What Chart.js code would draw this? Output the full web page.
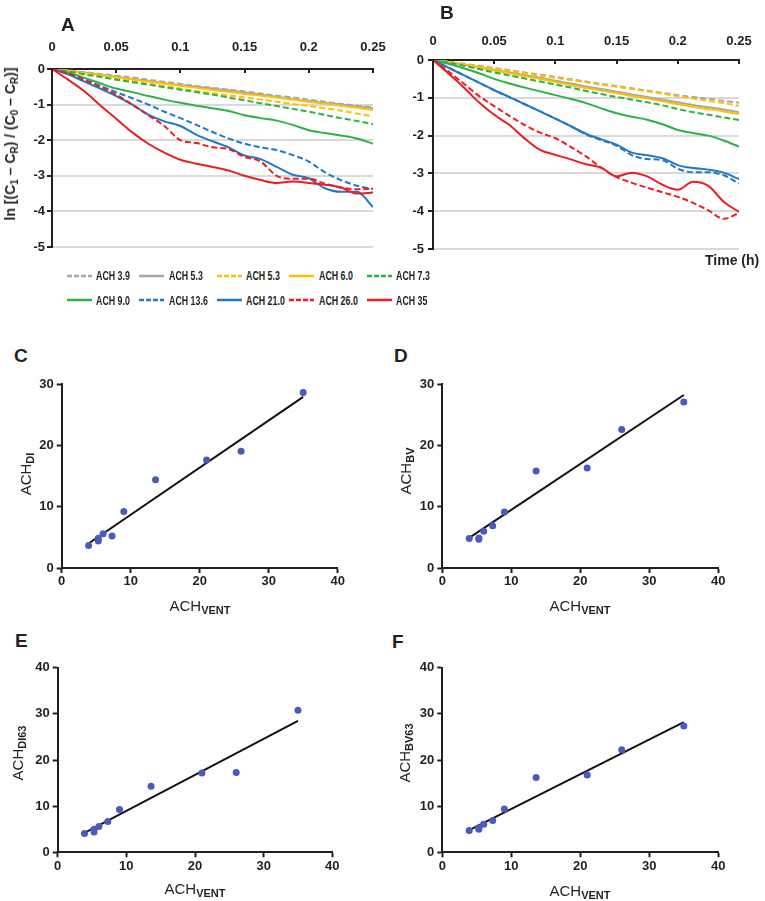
<!DOCTYPE html>
<html>
<head>
<meta charset="utf-8">
<script src="https://cdn.jsdelivr.net/npm/chart.js@4.4.0/dist/chart.umd.min.js"></script>
<style>
html,body{margin:0;padding:0;background:#fff;}
body{width:765px;height:901px;position:relative;overflow:hidden;font-family:"Liberation Sans",Arial,sans-serif;color:#231f20;}
canvas{position:absolute;}
.letter{position:absolute;font-weight:bold;font-size:19px;line-height:19px;}
.ytitle{position:absolute;white-space:nowrap;transform:translate(-50%,-50%) rotate(-90deg);line-height:16px;}
.xtitle{position:absolute;white-space:nowrap;transform:translateX(-50%);line-height:15px;}
.ach{font-size:15px;}
.sub{font-size:11px;font-weight:bold;position:relative;top:3px;}
.atitle{font-weight:bold;font-size:14px;}
.atitle .s{font-size:10px;position:relative;top:3px;}
.leg{position:absolute;font-weight:bold;font-size:13px;line-height:13px;white-space:nowrap;transform:scaleX(0.68);transform-origin:left center;}
svg.sw{position:absolute;overflow:visible;}
</style>
</head>
<body>
<canvas id="cA" width="392" height="230" style="left:0px;top:28px;"></canvas>
<canvas id="cB" width="380" height="237" style="left:385px;top:20px;"></canvas>
<canvas id="cC" width="355" height="228" style="left:0px;top:372px;"></canvas>
<canvas id="cD" width="360" height="228" style="left:380px;top:372px;"></canvas>
<canvas id="cE" width="355" height="226" style="left:0px;top:656px;"></canvas>
<canvas id="cF" width="360" height="226" style="left:380px;top:656px;"></canvas>

<div class="letter" style="left:61px;top:15px;">A</div>
<div class="letter" style="left:440px;top:3px;">B</div>
<div class="letter" style="left:14px;top:345.5px;">C</div>
<div class="letter" style="left:394px;top:345.5px;">D</div>
<div class="letter" style="left:15px;top:631px;">E</div>
<div class="letter" style="left:392px;top:632px;">F</div>

<div class="ytitle atitle" style="left:11px;top:144px;">ln [(C<span class="s">1</span> – C<span class="s">R</span>) / (C<span class="s">0</span> – C<span class="s">R</span>)]</div>
<div style="position:absolute;left:705px;top:253px;font-weight:bold;font-size:14px;line-height:14px;white-space:nowrap;">Time (h)</div>

<div class="ytitle" style="left:26px;top:474px;"><span class="ach">ACH</span><span class="sub">DI</span></div>
<div class="ytitle" style="left:406px;top:471px;"><span class="ach">ACH</span><span class="sub">BV</span></div>
<div class="ytitle" style="left:18px;top:753px;"><span class="ach">ACH</span><span class="sub">DI63</span></div>
<div class="ytitle" style="left:405px;top:753px;"><span class="ach">ACH</span><span class="sub">BV63</span></div>

<div class="xtitle" style="left:200px;top:598px;"><span class="ach">ACH</span><span class="sub">VENT</span></div>
<div class="xtitle" style="left:580px;top:598px;"><span class="ach">ACH</span><span class="sub">VENT</span></div>
<div class="xtitle" style="left:195px;top:881px;"><span class="ach">ACH</span><span class="sub">VENT</span></div>
<div class="xtitle" style="left:580px;top:883px;"><span class="ach">ACH</span><span class="sub">VENT</span></div>

<div id="legend"></div>

<script>
// ---------- DATA ----------
const timeH = [0,0.0125,0.025,0.0375,0.05,0.0625,0.075,0.0875,0.1,0.1125,0.125,0.1375,0.15,0.1625,0.175,0.1875,0.2,0.2125,0.225,0.2375,0.25];
const timeTicks = [0,0.05,0.1,0.15,0.2,0.25];
const timeTickLabels = ['0','0.05','0.1','0.15','0.2','0.25'];
const decayYLabels = ['-5','-4','-3','-2','-1','0'];
const seriesNames = ['ACH 3.9','ACH 5.3','ACH 5.3','ACH 6.0','ACH 7.3','ACH 9.0','ACH 13.6','ACH 21.0','ACH 26.0','ACH 35'];

// Panel A
const a_ach39  = [0,-0.04,-0.09,-0.14,-0.19,-0.24,-0.3,-0.36,-0.42,-0.48,-0.53,-0.58,-0.63,-0.69,-0.75,-0.8,-0.86,-0.92,-0.98,-1.03,-1.08];
const a_ach53g = [0,-0.05,-0.1,-0.16,-0.22,-0.28,-0.34,-0.4,-0.45,-0.5,-0.55,-0.6,-0.66,-0.72,-0.78,-0.84,-0.9,-0.95,-1.0,-1.05,-1.1];
const a_ach53y = [0,-0.06,-0.13,-0.2,-0.27,-0.34,-0.41,-0.48,-0.55,-0.62,-0.68,-0.74,-0.8,-0.86,-0.92,-0.98,-1.04,-1.1,-1.17,-1.25,-1.33];
const a_ach60  = [0,-0.05,-0.11,-0.17,-0.23,-0.29,-0.35,-0.41,-0.47,-0.53,-0.59,-0.64,-0.7,-0.75,-0.8,-0.86,-0.92,-0.97,-1.03,-1.09,-1.15];
const a_ach73  = [0,-0.07,-0.15,-0.22,-0.3,-0.37,-0.44,-0.51,-0.58,-0.65,-0.72,-0.8,-0.88,-0.96,-1.04,-1.12,-1.2,-1.29,-1.38,-1.46,-1.55];
const a_ach90  = [0,-0.1,-0.25,-0.4,-0.55,-0.65,-0.76,-0.86,-0.95,-1.03,-1.1,-1.18,-1.3,-1.38,-1.45,-1.57,-1.72,-1.8,-1.87,-1.95,-2.1];
const a_ach136 = [0,-0.14,-0.3,-0.47,-0.65,-0.82,-1.0,-1.2,-1.38,-1.57,-1.77,-1.95,-2.1,-2.2,-2.28,-2.42,-2.6,-2.9,-3.12,-3.28,-3.37];
const a_ach210 = [0,-0.15,-0.35,-0.55,-0.76,-1.0,-1.28,-1.47,-1.6,-1.85,-2.03,-2.2,-2.43,-2.53,-2.75,-2.97,-3.07,-3.35,-3.45,-3.45,-3.88];
const a_ach260 = [0,-0.13,-0.3,-0.5,-0.72,-1.0,-1.3,-1.6,-2.0,-2.08,-2.2,-2.25,-2.47,-2.6,-3.0,-3.08,-3.08,-3.22,-3.33,-3.38,-3.36];
const a_ach350 = [0,-0.3,-0.62,-1.02,-1.4,-1.78,-2.1,-2.35,-2.55,-2.66,-2.75,-2.85,-3.0,-3.12,-3.2,-3.16,-3.2,-3.25,-3.33,-3.5,-3.47];

// Panel B
const b_ach39  = [0,-0.05,-0.1,-0.15,-0.21,-0.27,-0.33,-0.39,-0.45,-0.51,-0.57,-0.63,-0.69,-0.75,-0.81,-0.87,-0.93,-0.98,-1.03,-1.08,-1.13];
const b_ach53g = [0,-0.06,-0.12,-0.19,-0.26,-0.33,-0.4,-0.47,-0.55,-0.62,-0.7,-0.77,-0.84,-0.91,-0.98,-1.05,-1.12,-1.19,-1.25,-1.31,-1.38];
const b_ach53y = [0,-0.05,-0.11,-0.17,-0.23,-0.29,-0.35,-0.41,-0.47,-0.53,-0.59,-0.65,-0.71,-0.77,-0.83,-0.89,-0.96,-1.02,-1.08,-1.14,-1.21];
const b_ach60  = [0,-0.06,-0.13,-0.2,-0.28,-0.35,-0.43,-0.5,-0.58,-0.66,-0.74,-0.81,-0.88,-0.95,-1.02,-1.09,-1.17,-1.24,-1.3,-1.36,-1.43];
const b_ach73  = [0,-0.07,-0.15,-0.24,-0.33,-0.41,-0.49,-0.57,-0.65,-0.73,-0.82,-0.9,-0.98,-1.05,-1.12,-1.2,-1.3,-1.38,-1.45,-1.52,-1.59];
const b_ach90  = [0,-0.1,-0.22,-0.35,-0.5,-0.62,-0.73,-0.83,-0.93,-1.03,-1.14,-1.28,-1.41,-1.5,-1.58,-1.7,-1.85,-1.93,-2.0,-2.13,-2.29];
const b_ach136 = [0,-0.2,-0.4,-0.6,-0.8,-0.98,-1.17,-1.36,-1.55,-1.75,-1.97,-2.12,-2.27,-2.52,-2.62,-2.65,-2.88,-2.97,-2.97,-3.05,-3.27];
const b_ach210 = [0,-0.2,-0.4,-0.6,-0.8,-0.98,-1.17,-1.36,-1.55,-1.75,-1.95,-2.1,-2.24,-2.45,-2.52,-2.6,-2.78,-2.86,-2.9,-2.98,-3.15];
const b_ach260 = [0,-0.3,-0.62,-0.95,-1.22,-1.48,-1.72,-1.92,-2.07,-2.3,-2.55,-2.85,-3.1,-3.25,-3.38,-3.5,-3.62,-3.78,-3.98,-4.2,-4.05];
const b_ach350 = [0,-0.35,-0.72,-1.12,-1.45,-1.72,-2.08,-2.38,-2.51,-2.63,-2.76,-2.85,-3.08,-2.98,-3.08,-3.3,-3.43,-3.22,-3.33,-3.75,-4.02];

// Scatter panels C–F
const ventACH   = [3.9,5.3,5.3,6.0,7.3,9.0,13.6,21.0,26.0,35];
const achDI     = [3.65,4.4,4.85,5.6,5.2,9.2,14.4,17.6,19.05,28.6];
const achBV     = [4.8,4.7,4.9,6.0,6.9,9.15,15.8,16.3,22.6,27.05];
const achDI63   = [4.1,4.4,5.0,5.6,6.7,9.25,14.3,17.2,17.3,30.8];
const achBV63   = [4.7,5.0,5.3,6.1,6.9,9.4,16.2,16.75,22.2,27.35];
const fitX      = [3.9,35];
const fitDI     = [4.0,27.9];
const fitBV     = [4.9,28.2];
const fitDI63   = [4.2,28.5];
const fitBV63   = [4.8,28.2];
const scatterXTicks = [0,10,20,30,40];

// ---------- STYLE ----------
const INK = '#231f20';
const GRID = '#d9d9d9';
const FONT = '"Liberation Sans", Arial, sans-serif';
const DOT = '#4a5bbd';
const seriesColors = ['#a6a6a6','#a6a6a6','#ffc000','#ffc000','#2db14b','#2db14b','#2278c3','#2278c3','#ed1c24','#ed1c24'];
const seriesDashed = [true,false,true,false,true,false,true,false,true,false];

const innerTicks = {
  id:'innerTicks',
  afterDatasetsDraw(chart, args, opts){
    const s = chart.scales.x, ctx = chart.ctx, top = chart.chartArea.top;
    ctx.save();
    ctx.strokeStyle = INK; ctx.lineWidth = 2;
    s.ticks.forEach(t => {
      const x = Math.round(s.getPixelForValue(t.value));
      ctx.beginPath(); ctx.moveTo(x, top); ctx.lineTo(x, top + (opts.len || 4)); ctx.stroke();
    });
    ctx.restore();
  }
};

function makeDecay(id, series, lay){
  new Chart(document.getElementById(id), {
    type:'line',
    data:{datasets: series.map((arr,i)=>({
      label: seriesNames[i],
      data: timeH.map((t,k)=>({x:t, y:arr[k]})),
      borderColor: seriesColors[i], backgroundColor: seriesColors[i],
      borderWidth: 2, borderDash: seriesDashed[i] ? [6,3] : [],
      pointRadius: 0, fill:false, cubicInterpolationMode:'monotone', order: 9 - i
    }))},
    options:{
      responsive:false, animation:false, events:[],
      layout:{padding:{left:0, top:0, right:lay.padR, bottom:lay.padB}},
      plugins:{legend:{display:false}, tooltip:{enabled:false}, innerTicks:{len:4}},
      scales:{
        x:{type:'linear', position:'top', min:0, max:0.25,
          afterBuildTicks: s => { s.ticks = timeTicks.map(v => ({value:v})); },
          ticks:{callback:(v,i)=>timeTickLabels[i], padding:lay.xPad, color:INK, maxRotation:0, autoSkip:false,
                 font:{family:FONT, size:13, weight:'bold'}},
          grid:{drawOnChartArea:false, drawTicks:false},
          border:{color:INK, width:2},
          afterFit: s => { s.height = lay.xH; s.paddingLeft = 0; s.paddingRight = 0; }
        },
        y:{type:'linear', min:-5, max:0,
          ticks:{stepSize:1, callback:(v,i)=>decayYLabels[i], padding:lay.yPad, color:INK,
                 font:{family:FONT, size:13, weight:'bold'}},
          grid:{color: c => (c.tick && c.tick.value === 0) ? 'rgba(0,0,0,0)' : GRID, lineWidth:2,
                tickColor: INK, tickLength:5, tickWidth:2},
          border:{color:INK, width:2},
          afterFit: s => { s.width = lay.yW; s.paddingTop = 0; s.paddingBottom = 0; }
        }
      }
    },
    plugins:[innerTicks]
  });
}

function makeScatter(id, yVals, fitY, yMax, lay){
  const yTicks = [];
  for (let v = 0; v <= yMax; v += 10) yTicks.push(v);
  new Chart(document.getElementById(id), {
    type:'scatter',
    data:{datasets:[
      {data: ventACH.map((x,i)=>({x:x, y:yVals[i]})), pointRadius:3.5, pointBackgroundColor:DOT,
       pointBorderColor:DOT, pointBorderWidth:0, showLine:false},
      {data: fitX.map((x,i)=>({x:x, y:fitY[i]})), showLine:true, pointRadius:0,
       borderColor:'#111', borderWidth:2}
    ]},
    options:{
      responsive:false, animation:false, events:[],
      layout:{padding:{left:0, top:lay.padT, right:lay.padR, bottom:0}},
      plugins:{legend:{display:false}, tooltip:{enabled:false}},
      scales:{
        x:{type:'linear', min:0, max:40,
          afterBuildTicks: s => { s.ticks = scatterXTicks.map(v => ({value:v})); },
          ticks:{padding:1, color:INK, maxRotation:0, autoSkip:false, font:{family:FONT, size:13, weight:'bold'}},
          grid:{drawOnChartArea:false, color:INK, tickLength:5, tickWidth:2},
          border:{color:INK, width:2},
          afterFit: s => { s.height = lay.xH; s.paddingLeft = 0; s.paddingRight = 0; }
        },
        y:{type:'linear', min:0, max:yMax,
          afterBuildTicks: s => { s.ticks = yTicks.map(v => ({value:v})); },
          ticks:{padding:3, color:INK, font:{family:FONT, size:13, weight:'bold'}},
          grid:{drawOnChartArea:false, color:INK, tickLength:5, tickWidth:2},
          border:{color:INK, width:2},
          afterFit: s => { s.width = lay.yW; s.paddingTop = 0; s.paddingBottom = 0; }
        }
      }
    }
  });
}

makeDecay('cA', [a_ach39,a_ach53g,a_ach53y,a_ach60,a_ach73,a_ach90,a_ach136,a_ach210,a_ach260,a_ach350],
  {yW:52, xH:41, padR:19, padB:11, xPad:14, yPad:2});
makeDecay('cB', [b_ach39,b_ach53g,b_ach53y,b_ach60,b_ach73,b_ach90,b_ach136,b_ach210,b_ach260,b_ach350],
  {yW:48, xH:40, padR:26, padB:8, xPad:11, yPad:4});

makeScatter('cC', achDI, fitDI, 30, {yW:61.7, xH:32, padT:12, padR:17.3});
makeScatter('cD', achBV, fitBV, 30, {yW:62.3, xH:32, padT:12, padR:21.7});
makeScatter('cE', achDI63, fitDI63, 40, {yW:57.7, xH:29.7, padT:11.7, padR:22.7});
makeScatter('cF', achBV63, fitBV63, 40, {yW:62.3, xH:29.7, padT:11.7, padR:21.7});

// ---------- LEGEND (HTML) ----------
const legCols = [[67,96],[139,169],[217,246],[289,319],[367,396]];
const legRows = [275.5,300];
const legEl = document.getElementById('legend');
seriesNames.forEach((name,i)=>{
  const col = legCols[i % 5], y = legRows[Math.floor(i / 5)];
  const svg = document.createElementNS('http://www.w3.org/2000/svg','svg');
  svg.setAttribute('class','sw'); svg.setAttribute('width','26'); svg.setAttribute('height','4');
  svg.style.left = col[0] + 'px'; svg.style.top = (y - 2) + 'px';
  const ln = document.createElementNS('http://www.w3.org/2000/svg','line');
  ln.setAttribute('x1','0'); ln.setAttribute('x2','25'); ln.setAttribute('y1','2'); ln.setAttribute('y2','2');
  ln.setAttribute('stroke', seriesColors[i]); ln.setAttribute('stroke-width','2.5');
  if (seriesDashed[i]) ln.setAttribute('stroke-dasharray','5 2');
  svg.appendChild(ln); legEl.appendChild(svg);
  const t = document.createElement('div');
  t.className = 'leg'; t.textContent = name;
  t.style.left = col[1] + 'px'; t.style.top = (y - 6.5) + 'px';
  legEl.appendChild(t);
});
</script>
</body>
</html>
